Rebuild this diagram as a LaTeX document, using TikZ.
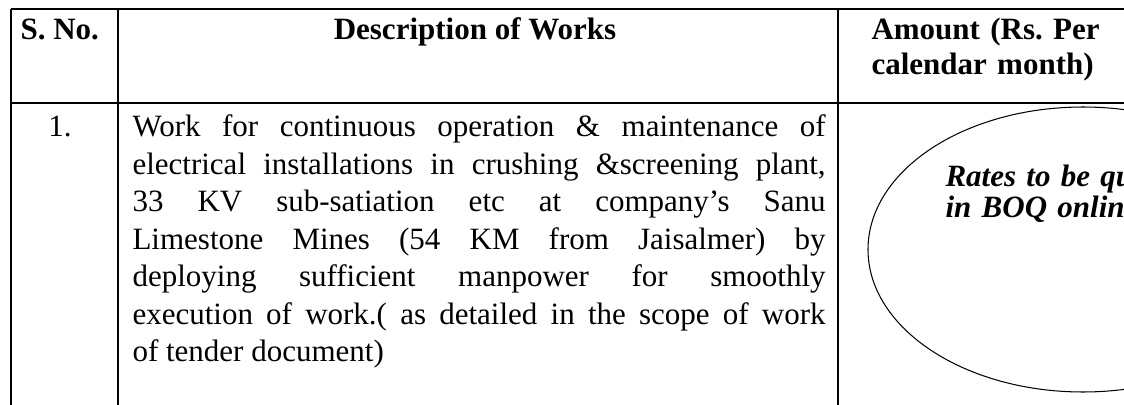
\documentclass[tikz,border=0pt]{standalone}
\usepackage{fontspec}
\setmainfont{Liberation Serif}
\tolerance=10000
\hbadness=10000
\frenchspacing
\begin{document}
\begin{tikzpicture}[x=0.3871pt, y=-0.3871pt,
  rule/.style={line width=0.75pt},
  cell/.style={inner sep=0pt, font=\fontsize{12}{14.5}\selectfont},
  headcell/.style={inner sep=0pt, font=\fontsize{12}{13.2}\selectfont\bfseries}]
% Page size (one unit is one pixel of the scan)
\useasboundingbox (0,0) rectangle (1124,405);
\clip (0,0) rectangle (1124,405);

% Grid lines, the table runs on past the bottom and right edges
\draw[rule] (11,9) -- (1124,9);
\draw[rule] (11,103) -- (1124,103);
\draw[rule] (11,9) -- (11,405);
\draw[rule] (118,9) -- (118,405);
\draw[rule] (838,9) -- (838,405);

% Header row
\node[headcell, anchor=base west] (sno) at (20,40) {S. No.};
\node[headcell, anchor=base] (desc) at (475,40) {Description of Works};
\node[headcell, anchor=base west, text width=95pt, align=left] (amount) at (871,40) {Amount (Rs. Per\\calendar month)};

% First row
\node[cell, anchor=base] (num) at (60,137) {1.};
\node[cell, anchor=base west, text width=268.3pt, align=justify] (work) at (132,137) {Work for continuous operation \& maintenance of\linebreak
electrical installations in crushing \&screening plant,\linebreak
33 KV sub-satiation etc at company’s Sanu\linebreak
Limestone Mines (54 KM from Jaisalmer) by\linebreak
deploying sufficient manpower for smoothly\linebreak
execution of work.( as detailed in the scope of work\linebreak
of tender document)};

% Oval round the rate note
\draw[line width=0.4pt] (1083,249.5) ellipse [x radius=215, y radius=142.5];
\node[inner sep=0pt, anchor=base west, text width=80pt, align=left, font=\fontsize{12}{12}\selectfont\bfseries\itshape] (rates) at (945,187) {Rates to be qu\\in BOQ onlin};
\end{tikzpicture}
\end{document}
